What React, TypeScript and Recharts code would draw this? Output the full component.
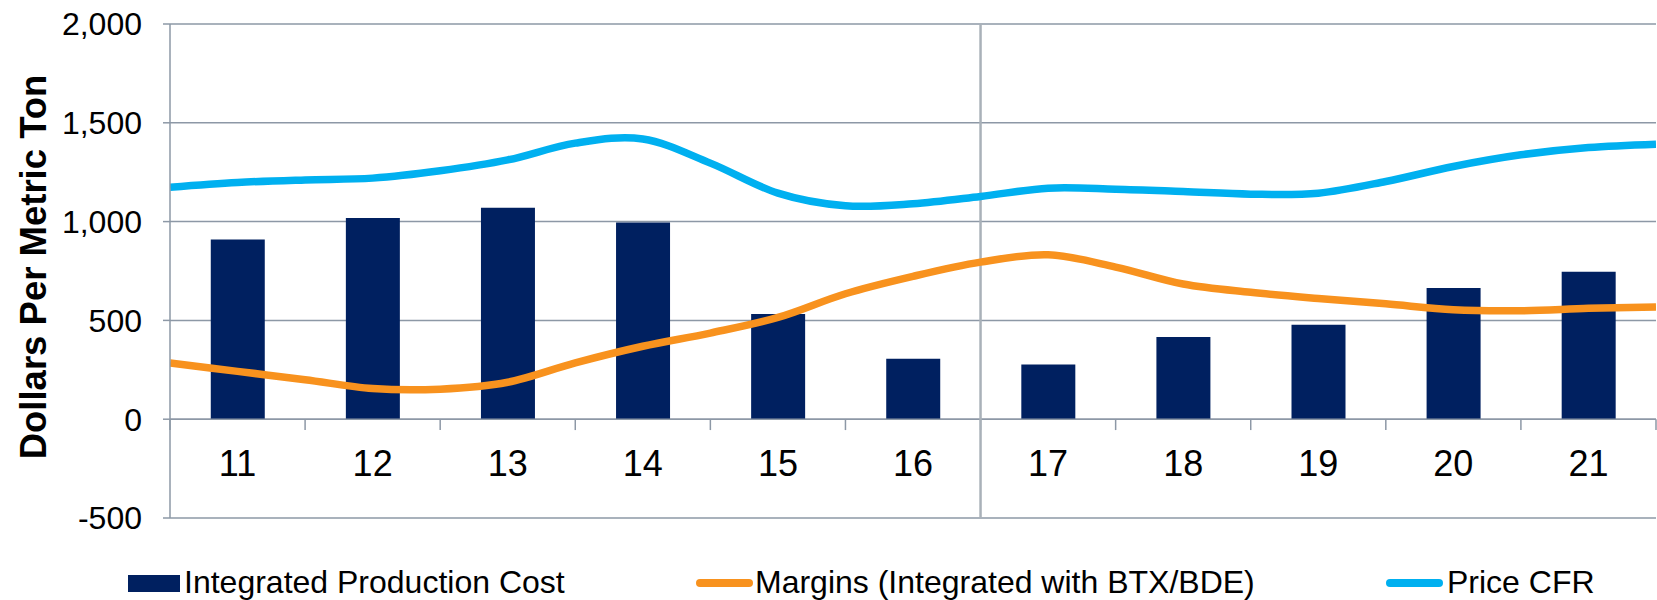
import React from 'react';
import {
  ComposedChart,
  Bar,
  Line,
  XAxis,
  YAxis,
  CartesianGrid,
  ReferenceLine,
  Legend,
} from 'recharts';

// ---------- data ----------
const categories = [11, 12, 13, 14, 15, 16, 17, 18, 19, 20, 21];
const productionCost = [910, 1018, 1070, 996, 532, 306, 277, 416, 478, 664, 746];

const linePositions = [
  10.5, 11, 11.5, 12, 12.5, 13, 13.5, 14, 14.5, 15, 15.5, 16,
  16.5, 17, 17.5, 18, 18.5, 19, 19.5, 20, 20.5, 21, 21.5,
];
const margins = [
  285, 242, 200, 155, 152, 187, 285, 369, 436, 515, 635, 723,
  795, 832, 770, 684, 642, 611, 584, 554, 549, 561, 568,
];
const priceCFR = [
  1174, 1198, 1211, 1220, 1257, 1312, 1397, 1418, 1296, 1144, 1080, 1090,
  1127, 1169, 1164, 1152, 1139, 1144, 1203, 1279, 1338, 1375, 1392,
];

const yTicks = [-500, 0, 500, 1000, 1500, 2000];
const tickBoundaries = [10.5, 11.5, 12.5, 13.5, 14.5, 15.5, 16.5, 17.5, 18.5, 19.5, 20.5, 21.5];
const dividerAt = 16.5;
const tickMarkDepth = -55;

const rows = linePositions.map((x, i) => {
  const ci = categories.indexOf(x);
  return {
    x,
    cost: ci >= 0 ? productionCost[ci] : null,
    margin: margins[i],
    price: priceCFR[i],
  };
});

// ---------- styles ----------
const FONT = '"Liberation Sans", Arial, Helvetica, sans-serif';
const NAVY = '#002060';
const ORANGE = '#F8921E';
const BLUE = '#00B0F0';
const GRID = '#8D98A6';
const DIVIDER = '#A9B1B9';

// Excel-like smoothing (Catmull-Rom / cardinal with tension 0)
const excelSmooth = (context: any) => {
  let x0 = NaN, y0 = NaN, x1 = NaN, y1 = NaN, x2 = NaN, y2 = NaN, pt = 0;
  const k = 1 / 6;
  const seg = (x: number, y: number) => {
    context.bezierCurveTo(
      x1 + k * (x2 - x0),
      y1 + k * (y2 - y0),
      x2 + k * (x1 - x),
      y2 + k * (y1 - y),
      x2,
      y2
    );
  };
  return {
    areaStart() {},
    areaEnd() {},
    lineStart() {
      x0 = x1 = x2 = y0 = y1 = y2 = NaN;
      pt = 0;
    },
    lineEnd() {
      if (pt === 2) context.lineTo(x2, y2);
      else if (pt === 3) seg(x1, y1);
    },
    point(xx: number, yy: number) {
      const x = +xx;
      const y = +yy;
      if (pt === 0) {
        pt = 1;
        context.moveTo(x, y);
      } else if (pt === 1) {
        pt = 2;
        x1 = x;
        y1 = y;
      } else {
        pt = 3;
        seg(x, y);
      }
      x0 = x1; x1 = x2; x2 = x;
      y0 = y1; y1 = y2; y2 = y;
    },
  };
};

const XTick = (p: any) => (
  <text
    x={p.x}
    y={p.y}
    dy={-42}
    textAnchor="middle"
    fontSize={36}
    fontFamily={FONT}
    fill="#000"
  >
    {p.payload && p.payload.value}
  </text>
);

const YTitle = (p: any) => {
  const vb = p.viewBox || { x: 0, y: 24, width: 170, height: 494 };
  const cx = vb.x + 46;
  const cy = vb.y + vb.height / 2 - 4;
  return (
    <text
      x={cx}
      y={cy}
      transform={`rotate(-90 ${cx} ${cy})`}
      textAnchor="middle"
      fontSize={36.5}
      fontWeight="bold"
      fontFamily={FONT}
      fill="#000"
    >
      Dollars Per Metric Ton
    </text>
  );
};

const legendSlots: Record<string, any> = {
  cost: { kind: 'rect', x1: 128, x2: 180, textX: 184 },
  margin: { kind: 'line', x1: 700, x2: 749, textX: 755 },
  price: { kind: 'line', x1: 1390, x2: 1439, textX: 1447 },
};

const LegendContent = (props: any) => {
  const payload = props.payload || [];
  return (
    <svg width={1657} height={40} style={{ display: 'block' }}>
      {payload.map((entry: any) => {
        const slot = legendSlots[entry.dataKey];
        if (!slot) return null;
        return (
          <g key={entry.dataKey}>
            {slot.kind === 'rect' ? (
              <rect x={slot.x1} y={15} width={slot.x2 - slot.x1} height={17} fill={entry.color} />
            ) : (
              <line
                x1={slot.x1}
                x2={slot.x2}
                y1={23}
                y2={23}
                stroke={entry.color}
                strokeWidth={8}
                strokeLinecap="round"
              />
            )}
            <text x={slot.textX} y={33} fontSize={32} fontFamily={FONT} fill="#000">
              {entry.value}
            </text>
          </g>
        );
      })}
    </svg>
  );
};

export default function App() {
  return (
    <div style={{ position: 'absolute', left: 0, top: 0, width: 1657, height: 600, background: '#fff' }}>
      <ComposedChart
        width={1657}
        height={600}
        data={rows}
        margin={{ top: 24, right: 1, bottom: 42, left: 0 }}
      >
        <CartesianGrid vertical={false} stroke={GRID} strokeWidth={1.5} />
        <XAxis
          dataKey="x"
          type="number"
          domain={[10.5, 21.5]}
          ticks={categories}
          interval={0}
          axisLine={false}
          tickLine={false}
          tickSize={0}
          tickMargin={0}
          height={40}
          tick={XTick}
          allowDataOverflow
        />
        <YAxis
          type="number"
          domain={[-500, 2000]}
          ticks={yTicks}
          interval={0}
          width={170}
          tickFormatter={(v: number) => v.toLocaleString('en-US')}
          axisLine={{ stroke: GRID, strokeWidth: 1.5 }}
          tickLine={{ stroke: GRID, strokeWidth: 1.5 }}
          tickSize={7}
          tickMargin={21}
          tick={{ fontSize: 32, fill: '#000', fontFamily: FONT }}
          label={<YTitle />}
          allowDataOverflow
        />
        <Bar
          dataKey="cost"
          name="Integrated Production Cost"
          fill={NAVY}
          barSize={54}
          isAnimationActive={false}
          legendType="rect"
        />
        <ReferenceLine y={0} stroke={GRID} strokeWidth={1.5} />
        {tickBoundaries.map((b) => (
          <ReferenceLine
            key={`t${b}`}
            segment={[{ x: b, y: 0 }, { x: b, y: tickMarkDepth }]}
            stroke={GRID}
            strokeWidth={1.5}
          />
        ))}
        <ReferenceLine x={dividerAt} stroke={DIVIDER} strokeWidth={2.5} />
        <Line
          dataKey="margin"
          name="Margins (Integrated with BTX/BDE)"
          type={excelSmooth as any}
          stroke={ORANGE}
          strokeWidth={7.5}
          dot={false}
          activeDot={false}
          isAnimationActive={false}
          legendType="line"
        />
        <Line
          dataKey="price"
          name="Price CFR"
          type={excelSmooth as any}
          stroke={BLUE}
          strokeWidth={7.5}
          dot={false}
          activeDot={false}
          isAnimationActive={false}
          legendType="line"
        />
        <Legend
          layout="horizontal"
          verticalAlign="middle"
          align="center"
          content={<LegendContent />}
          wrapperStyle={{ position: 'absolute', left: 0, top: 560, width: 1657, height: 40 }}
        />
      </ComposedChart>
    </div>
  );
}
